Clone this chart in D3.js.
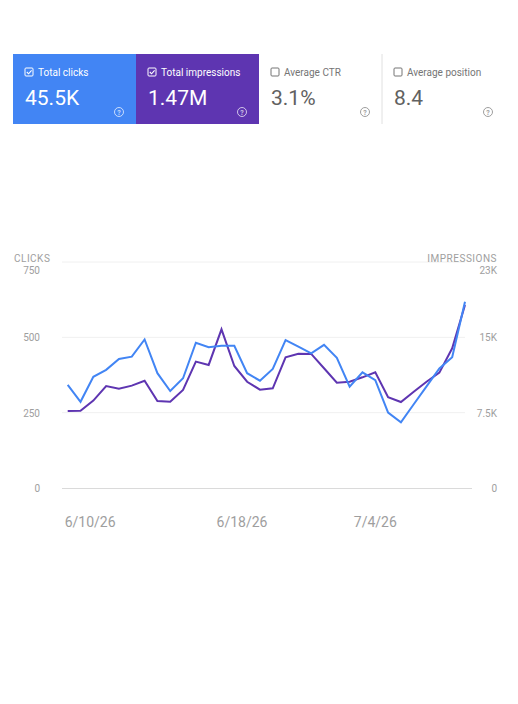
<!DOCTYPE html><html><head><meta charset="utf-8"><script src="https://cdn.jsdelivr.net/npm/d3@7"></script>
<style>body{margin:0;background:#fff;font-family:Roboto,"Noto Sans",sans-serif}</style></head><body><svg id="c" width="518" height="704"></svg>
<script>
const cardLabels=["Total clicks","Total impressions","Average CTR","Average position"];
const cardValues=["45.5K","1.47M","3.1%","8.4"];
const cardChecked=[true,true,false,false];
const cardColors=["#4285f4","#5e35b1",null,null];
const clicks=[342,286,369,392,428,436,493,381,322,364,482,467,472,472,381,356,395,491,469,447,475,432,336,384,358,250,218,278,337,397,434,618];
const impressions=[7660,7680,8700,10150,9890,10190,10680,8660,8580,9760,12580,12250,15800,12150,10580,9790,9920,13010,13370,13350,11920,10490,10580,11020,11520,9030,8560,9590,10580,11480,13910,18220];
const clickTicks=[0,250,500,750];
const imprTicks=[0,7500,15000,22500];
const imprTickLabels=["0","7.5K","15K","23K"];
const dateTickPos=[1.75,13.6,24];
const dateTickLabels=["6/10/26","6/18/26","7/4/26"];
const svg=d3.select("#c");
// cards
const cx=d3.scaleBand().domain(d3.range(4)).range([13,505]);
const card=svg.selectAll("g.card").data(cardLabels).join("g").attr("transform",(d,i)=>`translate(${cx(i)},54)`);
card.append("rect").attr("width",(d,i)=>cx.bandwidth()+(i<2?0.5:0)).attr("height",70).attr("fill",(d,i)=>cardColors[i]||"#fff");
card.filter((d,i)=>i==3).append("line").attr("x1",0).attr("x2",0).attr("y1",0).attr("y2",70).attr("stroke","#e0e0e0");
const fg=i=>cardColors[i]?"#fff":"#757575";
card.append("rect").attr("x",12).attr("y",14).attr("width",8).attr("height",8).attr("rx",1).attr("fill","none").attr("stroke",(d,i)=>fg(i)).attr("stroke-width",1);
card.filter((d,i)=>cardChecked[i]).append("path").attr("d","M13.8,18 l1.8,1.8 l3,-3.4").attr("fill","none").attr("stroke","#fff").attr("stroke-width",1.1);
card.append("text").attr("x",25).attr("y",22).attr("font-size",10).attr("fill",(d,i)=>fg(i)).text(d=>d);
card.append("text").attr("x",12).attr("y",51).attr("font-size",21).attr("fill",(d,i)=>cardColors[i]?"#fff":"#616161").text((d,i)=>cardValues[i]);
card.append("circle").attr("cx",106).attr("cy",58).attr("r",4.5).attr("fill","none").attr("stroke",(d,i)=>cardColors[i]?"rgba(255,255,255,0.7)":"#9e9e9e");
card.append("text").attr("x",106).attr("y",61).attr("text-anchor","middle").attr("font-size",7).attr("font-weight","bold").attr("fill",(d,i)=>cardColors[i]?"rgba(255,255,255,0.7)":"#9e9e9e").text("?");
// chart
const x=d3.scaleLinear().domain([0,clicks.length-1]).range([67.7,465]);
const y=d3.scaleLinear().domain([0,750]).range([488,262]);
const y2=d3.scaleLinear().domain([0,22500]).range([488,262]);
svg.selectAll("line.g").data(clickTicks.slice(1)).join("line").attr("x1",62).attr("x2",465).attr("y1",d=>y(d)).attr("y2",d=>y(d)).attr("stroke","#f0f0f0");
svg.append("line").attr("x1",62).attr("x2",472).attr("y1",y(0)+0.5).attr("y2",y(0)+0.5).attr("stroke","#dadada");
svg.append("text").attr("x",14).attr("y",262).attr("font-size",10).attr("fill","#9e9e9e").attr("letter-spacing",0.5).text("CLICKS");
svg.append("text").attr("x",497).attr("y",262).attr("text-anchor","end").attr("font-size",10).attr("fill","#9e9e9e").attr("letter-spacing",0.5).text("IMPRESSIONS");
svg.selectAll("text.l").data(clickTicks).join("text").attr("x",40).attr("y",d=>y(d)+(d==750?12:4)).attr("text-anchor","end").attr("font-size",10).attr("fill","#9e9e9e").text(d=>d);
svg.selectAll("text.r").data(imprTicks).join("text").attr("x",497).attr("y",d=>y2(d)+(d==22500?12:4)).attr("text-anchor","end").attr("font-size",10).attr("fill","#9e9e9e").text((d,i)=>imprTickLabels[i]);
svg.selectAll("text.d").data(dateTickPos).join("text").attr("x",d=>x(d)).attr("y",527).attr("text-anchor","middle").attr("font-size",14).attr("fill","#9e9e9e").text((d,i)=>dateTickLabels[i]);
svg.append("path").datum(impressions).attr("d",d3.line().x((d,i)=>x(i)).y(d=>y2(d))).attr("fill","none").attr("stroke","#5e35b1").attr("stroke-width",2);
svg.append("path").datum(clicks).attr("d",d3.line().x((d,i)=>x(i)).y(d=>y(d))).attr("fill","none").attr("stroke","#4285f4").attr("stroke-width",2);
</script></body></html>
